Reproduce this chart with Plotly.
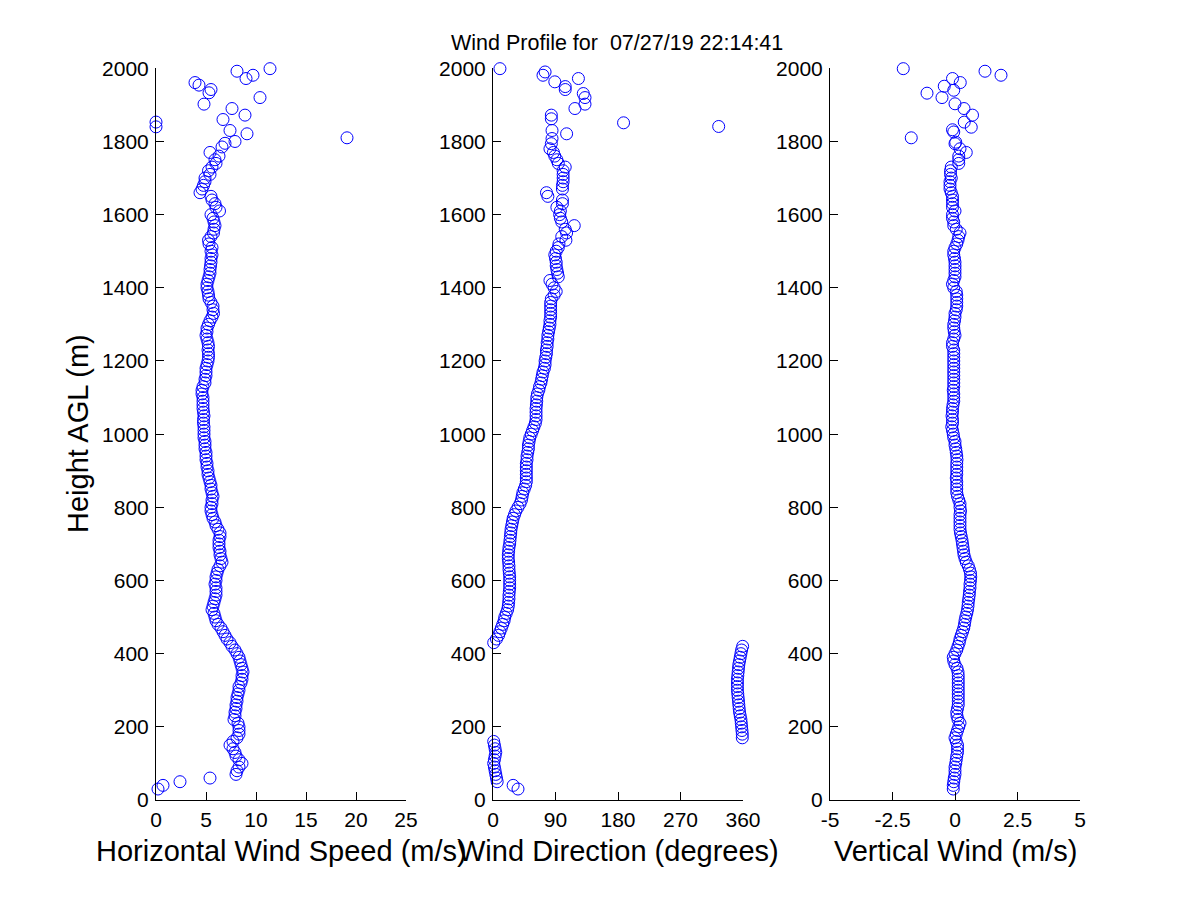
import plotly.graph_objects as go

# ---------------- data ----------------
height_main = [
    30, 40, 50, 60, 70, 80, 90, 100, 110, 120,
    130, 140, 150, 160, 170, 180, 190, 200, 210, 220,
    230, 240, 250, 260, 270, 280, 290, 300, 310, 320,
    330, 340, 350, 360, 370, 380, 390, 400, 410, 420,
    430, 440, 450, 460, 470, 480, 490, 500, 510, 520,
    530, 540, 550, 560, 570, 580, 590, 600, 610, 620,
    630, 640, 650, 660, 670, 680, 690, 700, 710, 720,
    730, 740, 750, 760, 770, 780, 790, 800, 810, 820,
    830, 840, 850, 860, 870, 880, 890, 900, 910, 920,
    930, 940, 950, 960, 970, 980, 990, 1000, 1010, 1020,
    1030, 1040, 1050, 1060, 1070, 1080, 1090, 1100, 1110, 1120,
    1130, 1140, 1150, 1160, 1170, 1180, 1190, 1200, 1210, 1220,
    1230, 1240, 1250, 1260, 1270, 1280, 1290, 1300, 1310, 1320,
    1330, 1340, 1350, 1360, 1370, 1380, 1390, 1400, 1410, 1420,
    1430, 1440, 1450, 1460, 1470, 1480, 1490, 1500, 1510, 1520,
    1530, 1540, 1550, 1560, 1570, 1580, 1590, 1600, 1610, 1620,
    1630, 1640, 1650, 1660, 1670, 1680, 1690, 1700, 1710, 1720,
    1730, 1740, 1750, 1760, 1770,
]

speed_main = [
    0.2, 0.7, 2.4, 5.4, 8.0, 8.1, 8.3, 8.6, 8.3, 8.0,
    7.9, 7.7, 7.4, 7.7, 8.1, 8.3, 8.3, 8.3, 8.2, 7.8,
    7.9, 7.9, 8.0, 8.0, 8.1, 8.1, 8.2, 8.3, 8.3, 8.5,
    8.6, 8.6, 8.7, 8.6, 8.5, 8.4, 8.3, 8.1, 7.9, 7.6,
    7.4, 7.1, 6.9, 6.7, 6.5, 6.2, 6.0, 5.9, 5.8, 5.6,
    5.7, 5.8, 5.9, 6.0, 6.0, 6.0, 5.9, 6.0, 6.0, 6.1,
    6.2, 6.4, 6.6, 6.5, 6.4, 6.4, 6.3, 6.3, 6.3, 6.4,
    6.4, 6.2, 6.0, 5.9, 5.7, 5.6, 5.5, 5.5, 5.6, 5.6,
    5.7, 5.6, 5.5, 5.5, 5.4, 5.3, 5.2, 5.2, 5.1, 5.1,
    5.0, 5.0, 5.0, 4.9, 4.9, 4.9, 4.8, 4.8, 4.8, 4.8,
    4.75, 4.75, 4.8, 4.75, 4.7, 4.7, 4.7, 4.7, 4.6, 4.6,
    4.7, 4.9, 4.9, 5.0, 5.0, 5.0, 5.1, 5.2, 5.25, 5.25,
    5.2, 5.25, 5.2, 5.1, 5.0, 5.1, 5.1, 5.25, 5.4, 5.6,
    5.75, 5.7, 5.7, 5.5, 5.3, 5.25, 5.2, 5.1, 5.1, 5.2,
    5.3, 5.4, 5.4, 5.45, 5.5, 5.5, 5.6, 5.5, 5.6, 5.3,
    5.25, 5.5, 5.75, 5.8, 5.9, 5.8, 5.7, 5.5, 6.35, 6.0,
    5.9, 5.6, 5.5, 4.4, 4.6, 4.75, 4.9, 4.9, 5.4, 5.25,
    5.6, 6.0, 5.9, 6.3, 5.4,
]

direction_main = [
    36, 29, 6, 5, 4, 3, 2, 1, 2, 3,
    4, 3, 2, 1, 359, 359, 358.5, 358, 357.5, 357,
    356, 355, 354.5, 354, 353.5, 353, 352.5, 352, 352, 352,
    352, 352.5, 353, 353.5, 354, 355, 356, 357, 358, 359.5,
    1, 5, 8, 10, 12, 14, 16, 17, 19, 21,
    22, 22.5, 23, 23, 23.5, 24, 24, 24, 24, 23.5,
    23, 23, 22.5, 22, 22, 22.5, 23, 24, 24.5, 25,
    25.5, 26, 27, 28, 29, 31, 33, 36, 39, 41,
    42, 43, 45, 47, 48, 48, 48, 48, 48, 48,
    49, 49, 50, 51, 51, 52, 53, 55, 57, 59,
    61, 62, 62, 62, 62, 62.5, 63, 63, 64, 66,
    67, 69, 70, 71, 72, 74, 75, 75, 76, 77,
    77, 78, 78, 79, 79, 80, 81, 82, 82, 83,
    83, 83, 83, 83, 84, 88, 91, 88, 85, 82,
    94, 93, 92, 91, 91, 90, 89, 91, 94, 95,
    105, 99, 106, 104, 117, 99, 97, 96, 97, 92,
    100, 100, 79, 77, 100, 100, 101, 101, 101, 101,
    104, 94, 92, 89, 87,
]

vertical_main = [
    -0.07, -0.07, -0.05, -0.03, 0.0, 0.0, 0.0, 0.03, 0.05, 0.07,
    0.1, 0.1, 0.1, 0.05, 0.0, 0.05, 0.1, 0.15, 0.2, 0.12,
    0.08, 0.07, 0.1, 0.13, 0.13, 0.13, 0.13, 0.13, 0.13, 0.13,
    0.13, 0.13, 0.12, 0.08, 0.0, -0.05, -0.07, 0.0, 0.07, 0.12,
    0.17, 0.2, 0.25, 0.3, 0.35, 0.38, 0.4, 0.43, 0.47, 0.5,
    0.52, 0.53, 0.55, 0.57, 0.58, 0.6, 0.6, 0.62, 0.63, 0.62,
    0.58, 0.53, 0.45, 0.4, 0.36, 0.34, 0.32, 0.3, 0.28, 0.25,
    0.22, 0.2, 0.2, 0.2, 0.2, 0.2, 0.22, 0.2, 0.2, 0.15,
    0.1, 0.07, 0.07, 0.07, 0.07, 0.05, 0.07, 0.07, 0.07, 0.07,
    0.08, 0.07, 0.05, 0.03, 0.0, 0.0, -0.05, -0.07, -0.1, -0.13,
    -0.1, -0.1, -0.12, -0.1, -0.1, -0.08, -0.05, -0.05, -0.05, -0.07,
    -0.05, -0.05, -0.05, -0.05, -0.05, -0.05, -0.05, -0.05, -0.05, -0.05,
    -0.05, -0.1, -0.1, -0.05, 0.0, -0.03, -0.05, -0.05, -0.02, 0.0,
    0.0, 0.05, 0.07, 0.07, 0.07, 0.07, 0.05, -0.05, -0.1, -0.05,
    0.0, 0.0, 0.0, 0.0, 0.0, -0.02, -0.05, -0.05, 0.0, 0.07,
    0.12, 0.15, 0.2, 0.05, -0.05, -0.05, -0.1, -0.1, 0.0, -0.1,
    -0.1, -0.1, -0.1, -0.15, -0.2, -0.2, -0.2, -0.15, -0.18, -0.18,
    -0.15, 0.15, 0.15, 0.15, 0.45,
]

# scattered points above the main profile
speed_top_height = [1785, 1795, 1800, 1810, 1821, 1830, 1840, 1853, 1860, 1872,
                    1890, 1902, 1920, 1933, 1942, 1954, 1961, 1972, 1981, 1992, 1999]
speed_top = [6.6, 6.9, 7.9, 19.1, 9.1, 7.4, 0.0, 0.0, 6.7, 8.9,
             7.6, 4.8, 10.4, 5.3, 5.5, 4.3, 3.9, 9.0, 9.7, 8.1, 11.4]

direction_top_height = [1780, 1794, 1808, 1821, 1830, 1841, 1851, 1862, 1872, 1890,
                        1902, 1920, 1931, 1942, 1950, 1963, 1972, 1981, 1990, 1999]
direction_top = [82, 84, 85, 106, 85, 325, 188, 84, 84, 118,
                 132.5, 132.5, 130, 104, 104, 89, 123, 72, 75, 10]

vertical_top_height = [1780, 1794, 1798, 1810, 1826, 1832, 1839, 1853, 1872, 1890,
                       1903, 1920, 1932, 1940, 1951, 1961, 1972, 1981, 1992, 1999]
vertical_top = [0.2, 0.0, 0.03, -1.75, -0.05, -0.1, 0.65, 0.37, 0.7, 0.36,
                0.0, -0.52, -1.12, -0.05, -0.43, 0.21, -0.1, 1.84, 1.2, -2.07]

speed_ticks = [0, 5, 10, 15, 20, 25]
direction_ticks = [0, 90, 180, 270, 360]
vertical_ticks = [-5, -2.5, 0, 2.5, 5]
vertical_tick_text = ["-5", "-2.5", "0", "2.5", "5"]
height_ticks = [0, 200, 400, 600, 800, 1000, 1200, 1400, 1600, 1800, 2000]

title_text = "Wind Profile for  07/27/19 22:14:41"
xlabels = ["Horizontal Wind Speed (m/s)", "Wind Direction (degrees)", "Vertical Wind (m/s)"]
ylabel = "Height AGL (m)"

# ---------------- figure ----------------
W, H = 1200, 900
OFF = 8  # page body margin in the browser
FONT = "Liberation Sans, Arial, Helvetica, sans-serif"
BLUE = "#0000FF"

marker = dict(symbol="circle-open", size=12, color=BLUE, line=dict(width=1, color=BLUE))

fig = go.Figure()
fig.add_trace(go.Scatter(x=speed_main + speed_top, y=height_main + speed_top_height,
                         mode="markers", marker=marker, cliponaxis=False,
                         xaxis="x", yaxis="y"))
fig.add_trace(go.Scatter(x=direction_main + direction_top, y=height_main + direction_top_height,
                         mode="markers", marker=marker, cliponaxis=False,
                         xaxis="x2", yaxis="y2"))
fig.add_trace(go.Scatter(x=vertical_main + vertical_top, y=height_main + vertical_top_height,
                         mode="markers", marker=marker, cliponaxis=False,
                         xaxis="x3", yaxis="y3"))


def px_x(px):
    return (px - OFF) / W


def px_y(py):
    return 1 - (py - OFF) / H


px_domains = [(156, 406), (493, 743), (830, 1080)]
ydom = [px_y(800), px_y(68.3)]

common_axis = dict(
    showline=True, linecolor="black", linewidth=1, mirror=False,
    showgrid=False, zeroline=False, ticks="inside", ticklen=8,
    tickcolor="black", tickwidth=1,
    tickfont=dict(family=FONT, size=21, color="black"),
    automargin=False,
)

xranges = [[0, 25], [0, 360], [-5, 5]]
xtickvals = [speed_ticks, direction_ticks, vertical_ticks]
xticktexts = [[str(t) for t in speed_ticks], [str(t) for t in direction_ticks], vertical_tick_text]

layout = dict(
    width=W, height=H, autosize=False,
    margin=dict(l=0, r=0, t=0, b=0, pad=0, autoexpand=False),
    paper_bgcolor="white", plot_bgcolor="white",
    showlegend=False,
    font=dict(family=FONT, color="black"),
)
for i in range(3):
    sfx = "" if i == 0 else str(i + 1)
    d0, d1 = px_domains[i]
    layout["xaxis" + sfx] = dict(
        common_axis, domain=[px_x(d0), px_x(d1)], range=xranges[i],
        tickmode="array", tickvals=xtickvals[i], ticktext=xticktexts[i],
        anchor="y" + sfx, ticklabelstandoff=1,
    )
    layout["yaxis" + sfx] = dict(
        common_axis, domain=ydom, range=[0, 2000],
        tickmode="array", tickvals=height_ticks,
        anchor="x" + sfx, ticklabelstandoff=2,
    )
fig.update_layout(**layout)

annotations = [
    dict(text=title_text, x=px_x(617), y=px_y(43), xref="paper", yref="paper",
         showarrow=False, font=dict(family=FONT, size=21.5, color="black"),
         xanchor="center", yanchor="middle"),
    dict(text=ylabel, x=px_x(78), y=px_y(434), xref="paper", yref="paper",
         showarrow=False, textangle=-90, font=dict(family=FONT, size=29, color="black"),
         xanchor="center", yanchor="middle"),
]
for i in range(3):
    d0, d1 = px_domains[i]
    annotations.append(dict(text=xlabels[i], x=px_x((d0 + d1) / 2), y=px_y(851),
                            xref="paper", yref="paper", showarrow=False,
                            font=dict(family=FONT, size=29, color="black"),
                            xanchor="center", yanchor="middle"))
fig.update_layout(annotations=annotations)

fig.write_html("out.html", config={"responsive": False})
